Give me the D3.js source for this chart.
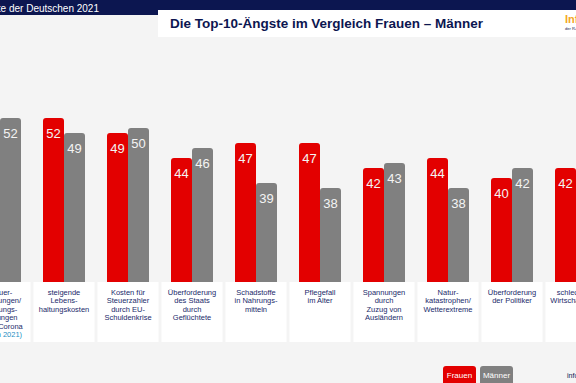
<!DOCTYPE html>
<html>
<head>
<meta charset="utf-8">
<script src="https://cdn.jsdelivr.net/npm/d3@7"></script>
<style>
  body { margin: 0; background: #f4f4f4; }
  svg { display: block; font-family: "Liberation Sans", Arial, sans-serif; }
</style>
</head>
<body>
<div id="chart"></div>
<script>
const categories = [
	["Steuer-", "erhöhungen/", "Leistungs-", "kürzungen", "durch Corona", "(neu in 2021)"],
	["steigende", "Lebens-", "haltungskosten"],
	["Kosten für", "Steuerzahler", "durch EU-", "Schuldenkrise"],
	["Überforderung", "des Staats", "durch", "Geflüchtete"],
	["Schadstoffe", "in Nahrungs-", "mitteln"],
	["Pflegefall", "im Alter"],
	["Spannungen", "durch", "Zuzug von", "Ausländern"],
	["Natur-", "katastrophen/", "Wetterextreme"],
	["Überforderung", "der Politiker"],
	["schlechtere", "Wirtschaftslage"]
];
const series = ["Frauen", "Männer"];
const frauen = [54, 52, 49, 44, 47, 47, 42, 44, 40, 42];
const maenner = [52, 49, 50, 46, 39, 38, 43, 38, 42, 40];

const width = 576, height = 383;
const baseline = 282;

const svg = d3.select("#chart").append("svg")
	.attr("width", width)
	.attr("height", height);

svg.append("rect").attr("width", width).attr("height", height).attr("fill", "#f4f4f4");

// header band
svg.append("rect").attr("x", 0).attr("y", 0).attr("width", width).attr("height", 15).attr("fill", "#0c1650");
svg.append("text")
	.attr("x", 99).attr("y", 11.5)
	.attr("text-anchor", "end")
	.attr("fill", "#ffffff")
	.attr("font-size", 10)
	.text("Die Ängste der Deutschen 2021");

svg.append("rect").attr("x", 158).attr("y", 10).attr("width", width - 158).attr("height", 27).attr("fill", "#ffffff");
svg.append("text")
	.attr("x", 170).attr("y", 28)
	.attr("fill", "#0c1650")
	.attr("font-size", 13.5)
	.attr("font-weight", "bold")
	.attr("textLength", 313)
	.attr("lengthAdjust", "spacingAndGlyphs")
	.text("Die Top-10-Ängste im Vergleich Frauen – Männer");

svg.append("text")
	.attr("x", 565).attr("y", 23)
	.attr("fill", "#f5a623")
	.attr("font-size", 11)
	.attr("font-weight", "bold")
	.text("Infocenter");
svg.append("text")
	.attr("x", 565).attr("y", 30)
	.attr("fill", "#0c1650")
	.attr("font-size", 4)
	.text("der R+V Versicherung");

const idx = d3.range(categories.length);

const x0 = d3.scaleBand()
	.domain(idx)
	.range([-32, 608])
	.paddingInner(0.34375)
	.paddingOuter(0.171875);

const x1 = d3.scaleBand()
	.domain(series)
	.range([0, x0.bandwidth()]);

const y = d3.scaleLinear()
	.domain([19.2, 52])
	.range([baseline, 118]);

const color = d3.scaleOrdinal()
	.domain(series)
	.range(["#e30000", "#808080"]);

const rows = idx.map(i => ({ i, values: [
	{ key: "Frauen", value: frauen[i] },
	{ key: "Männer", value: maenner[i] }
]}));

const r = 3;
function topRounded(x, yTop, w, yBottom) {
	return `M${x},${yBottom} V${yTop + r} Q${x},${yTop} ${x + r},${yTop} H${x + w - r} Q${x + w},${yTop} ${x + w},${yTop + r} V${yBottom} Z`;
}

const g = svg.selectAll("g.group")
	.data(rows)
	.enter().append("g")
	.attr("class", "group")
	.attr("transform", d => `translate(${x0(d.i)},0)`);

g.selectAll("path")
	.data(d => d.values)
	.enter().append("path")
	.attr("fill", d => color(d.key))
	.attr("d", d => topRounded(x1(d.key), y(d.value), x1.bandwidth(), baseline));

g.selectAll("text.val")
	.data(d => d.values)
	.enter().append("text")
	.attr("class", "val")
	.attr("x", d => x1(d.key) + x1.bandwidth() / 2)
	.attr("y", d => y(d.value) + 19.5)
	.attr("text-anchor", "middle")
	.attr("fill", "#f4f4f4")
	.attr("font-size", 13)
	.text(d => d.value);

// category label boxes
const boxW = 61;
const lab = svg.selectAll("g.lab")
	.data(rows)
	.enter().append("g")
	.attr("class", "lab")
	.attr("transform", d => `translate(${x0(d.i) + x0.bandwidth() / 2},0)`);

lab.append("rect")
	.attr("x", -boxW / 2)
	.attr("y", baseline)
	.attr("width", boxW)
	.attr("height", 60)
	.attr("fill", "#ffffff");

lab.each(function(d) {
	const t = d3.select(this).append("text")
		.attr("text-anchor", "middle")
		.attr("font-size", 7.5)
		.attr("fill", "#1b2a6b");
	categories[d.i].forEach((line, k) => {
		t.append("tspan")
			.attr("x", 0)
			.attr("y", 294.5 + k * 8.5)
			.attr("fill", line.startsWith("(neu") ? "#1d8fc4" : null)
			.text(line);
	});
});

// legend
const legend = svg.selectAll("g.legend")
	.data(series)
	.enter().append("g")
	.attr("class", "legend")
	.attr("transform", (d, i) => `translate(${443 + i * 37},366)`);

legend.append("rect")
	.attr("width", 33)
	.attr("height", 20)
	.attr("rx", 3)
	.attr("fill", d => color(d));

legend.append("text")
	.attr("x", 16.5)
	.attr("y", 12)
	.attr("text-anchor", "middle")
	.attr("fill", "#ffffff")
	.attr("font-size", 8)
	.text(d => d);

svg.append("text")
	.attr("x", 567).attr("y", 378)
	.attr("fill", "#0c1650")
	.attr("font-size", 7)
	.text("infocenter");
</script>
</body>
</html>
